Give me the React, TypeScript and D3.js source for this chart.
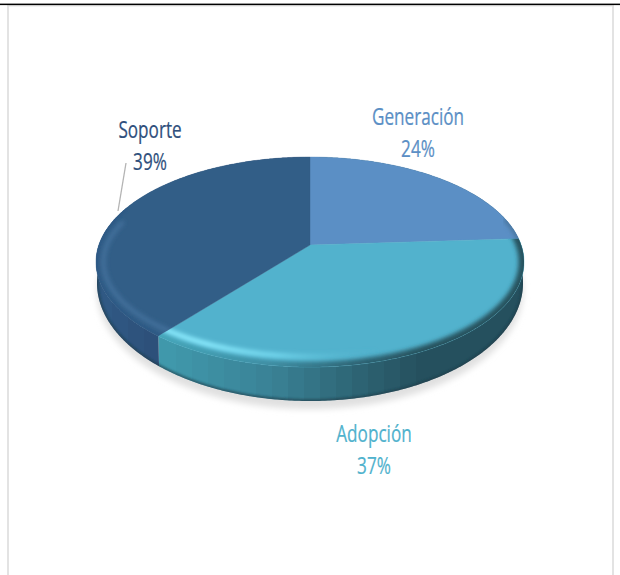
import React from "react";
import * as d3 from "d3";

const categories = ["Generación", "Adopción", "Soporte"];
const shares = [24, 36.8, 39.2];
const faceColors = ["#5b8fc5", "#52b2cd", "#325e87"];
const labelColors = ["#5b8fc5", "#50b2cd", "#2f4f7c"];
const labelCentres = [
  { x: 418, y: 116 },
  { x: 374, y: 433 },
  { x: 150, y: 129 },
];

const W = 620;
const H = 575;
const cx = 310;
const apexY = 245;
const rimTop = 157;
const rimBottom = 367;
const rimRx = 214;
const rimCy = (rimTop + rimBottom) / 2;
const rimRy = (rimBottom - rimTop) / 2;
const persp = (rimBottom - apexY - (apexY - rimTop)) / (rimBottom - apexY + (apexY - rimTop));
const scaleV = (rimBottom - apexY) * (1 - persp);
const scaleU = rimRx * Math.sqrt(1 - persp * persp);
const baseCy = 283;
const baseRy = 118;
const baseRxRatio = 213 / 214;

type P = [number, number];
const rim = (a: number): P => {
  const u = Math.sin(a);
  const v = -Math.cos(a);
  const w = 1 - persp * v;
  return [cx + (scaleU * u) / w, apexY + (scaleV * v) / w];
};
const base = (a: number): P => {
  const [x, y] = rim(a);
  return [cx + (x - cx) * baseRxRatio, baseCy + ((y - rimCy) * baseRy) / rimRy];
};
const inner = (a: number): P => {
  const [x, y] = rim(a);
  return [cx + (x - cx) * 0.965, rimCy + (y - rimCy) * 0.9];
};
const line = d3.line<P>();
const sample = (a0: number, a1: number, step = 0.01) => {
  const n = Math.max(2, Math.ceil((a1 - a0) / step));
  return d3.range(n + 1).map((i) => a0 + ((a1 - a0) * i) / n);
};

const pie = d3.pie<number>().sort(null).value((d) => d);
const arcs = pie(shares);

const wallColor = [
  d3.scaleLinear<string>().domain([300, 524]).range(["#2c5f70", "#27525f"]),
  d3.scaleLinear<string>().domain([160, 270, 360, 420, 524]).range(["#409aad", "#3a8296", "#2d6373", "#25505e", "#25505e"]),
  d3.scaleLinear<string>().domain([96, 160]).range(["#305b86", "#2c4e78"]),
];
const bandWidth = 16;

export default function App() {
  const wedges = arcs.map((s) => line([[cx, apexY], ...sample(s.startAngle, s.endAngle).map(rim)])! + "Z");

  const walls = arcs.map((s) => {
    const a = sample(s.startAngle, s.endAngle);
    return line([...a.map(rim), ...a.slice().reverse().map(base)])! + "Z";
  });

  const bands = d3.range(0, W, bandWidth);
  const rimPart = (a0: number, a1: number) => line(sample(a0, a1).map(rim))!;
  const innerPart = (a0: number, a1: number) => line(sample(a0, a1).map(inner))!;
  const frontBase = line(sample(Math.PI / 2, (Math.PI * 3) / 2).map(base))!;
  const wholeBase = line(sample(0, Math.PI * 2).map(base))! + "Z";

  return (
    <svg
      width={W}
      height={H}
      viewBox={`0 0 ${W} ${H}`}
      style={{ position: "absolute", left: 0, top: 0, display: "block", background: "#fff" }}
    >
      <defs>
        <filter id="blurShadow" x="-10%" y="-20%" width="120%" height="140%">
          <feGaussianBlur stdDeviation="3" />
        </filter>
        <filter id="blurBevel" x="-10%" y="-20%" width="120%" height="140%">
          <feGaussianBlur stdDeviation="2.2" />
        </filter>
        <filter id="blurThin" x="-10%" y="-20%" width="120%" height="140%">
          <feGaussianBlur stdDeviation="0.8" />
        </filter>
        {wedges.map((d, i) => (
          <clipPath key={i} id={`wedge${i}`}>
            <path d={d} />
          </clipPath>
        ))}
        <clipPath id="baseClip">
          <path d={wholeBase} />
        </clipPath>
        {wallColor.map((scale, i) => (
          <linearGradient key={i} id={`wall${i}`} gradientUnits="userSpaceOnUse" x1={0} y1={0} x2={W} y2={0}>
            {bands.flatMap((b) => [
              <stop key={`${b}a`} offset={b / W} stopColor={scale(b + bandWidth / 2)} />,
              <stop key={`${b}b`} offset={(b + bandWidth) / W} stopColor={scale(b + bandWidth / 2)} />,
            ])}
          </linearGradient>
        ))}
        <linearGradient id="rimAdop" gradientUnits="userSpaceOnUse" x1="160" y1="0" x2="524" y2="0">
          <stop offset="0" stopColor="#45a6ba" />
          <stop offset="0.3" stopColor="#3f8ea3" />
          <stop offset="0.55" stopColor="#2d6373" />
          <stop offset="0.72" stopColor="#27535f" />
          <stop offset="1" stopColor="#27535f" />
        </linearGradient>
        <linearGradient id="glowAdop" gradientUnits="userSpaceOnUse" x1="160" y1="0" x2="524" y2="0">
          <stop offset="0" stopColor="#8cecff" stopOpacity="0.95" />
          <stop offset="0.12" stopColor="#8cecff" stopOpacity="1" />
          <stop offset="0.32" stopColor="#78dcf2" stopOpacity="0.85" />
          <stop offset="0.48" stopColor="#62c4dc" stopOpacity="0.35" />
          <stop offset="0.6" stopColor="#52b2cd" stopOpacity="0" />
          <stop offset="1" stopColor="#52b2cd" stopOpacity="0" />
        </linearGradient>
      </defs>

      <rect x={8} y={5.5} width={605} height={H} fill="none" stroke="#e3e3e3" strokeWidth={2} />
      <rect x={0} y={3.6} width={W} height={1.5} fill="#000" />

      <path d={wholeBase} fill="#e0e0e0" filter="url(#blurShadow)" transform="translate(0,8)" />

      {walls.map((d, i) => (
        <path key={i} d={d} fill={`url(#wall${i})`} />
      ))}
      <g clipPath="url(#baseClip)">
        <path d={frontBase} fill="none" stroke="#1b3b48" strokeOpacity={0.6} strokeWidth={4} filter="url(#blurThin)" />
      </g>

      {wedges.map((d, i) => (
        <path key={i} d={d} fill={faceColors[i]} stroke={faceColors[i]} strokeWidth={0.4} />
      ))}

      <g clipPath="url(#wedge1)">
        <path
          d={rimPart(arcs[1].startAngle - 0.05, arcs[1].endAngle + 0.05)}
          fill="none"
          stroke="url(#rimAdop)"
          strokeWidth={11}
          filter="url(#blurBevel)"
        />
        <path
          d={innerPart(arcs[1].startAngle - 0.05, arcs[1].endAngle + 0.05)}
          fill="none"
          stroke="url(#glowAdop)"
          strokeWidth={5}
          filter="url(#blurBevel)"
        />
      </g>
      <g clipPath="url(#wedge2)">
        <path d={rimPart(arcs[2].startAngle - 0.05, 5.1)} fill="none" stroke="#2f5a85" strokeWidth={6} filter="url(#blurThin)" />
        <path
          d={innerPart(arcs[2].startAngle - 0.05, 5.0)}
          fill="none"
          stroke="#44739f"
          strokeOpacity={0.85}
          strokeWidth={4.5}
          filter="url(#blurBevel)"
        />
      </g>
      <g clipPath="url(#wedge0)">
        <path d={rimPart(1.3, arcs[0].endAngle + 0.05)} fill="none" stroke="#4a769f" strokeWidth={5} filter="url(#blurBevel)" />
      </g>

      <line x1={126} y1={163} x2={118} y2={211} stroke="#b4b4b4" strokeWidth={1.3} />

      {categories.map((c, i) => (
        <g
          key={c}
          transform={`translate(${labelCentres[i].x},0) scale(0.7,1)`}
          fill={labelColors[i]}
          stroke={labelColors[i]}
          strokeWidth={0.25}
          fontFamily="'Open Sans', sans-serif"
          fontSize={24.5}
          textAnchor="middle"
        >
          <text x={0} y={labelCentres[i].y + 9}>{c}</text>
          <text x={0} y={labelCentres[i].y + 41}>{`${Math.round(shares[i])}%`}</text>
        </g>
      ))}
    </svg>
  );
}
